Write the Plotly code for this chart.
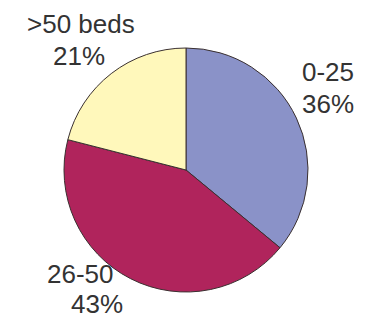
import plotly.graph_objects as go

labels = ["0-25", "26-50", ">50 beds"]
values = [36, 43, 21]
colors = ["#8a92c8", "#b0245c", "#fff8bb"]

W, H = 369, 321
cx, cy, r = 186, 170, 122

# label positions in pixels (label line, percent line)
label_pos = [(328, 72), (80, 274), (81, 24)]
pct_pos = [(328, 104), (97, 304), (79, 56)]

fig = go.Figure(go.Pie(
    labels=labels, values=values, sort=False, direction="clockwise", rotation=0,
    marker=dict(colors=colors, line=dict(color="#3a3030", width=1)),
    textinfo="none", hoverinfo="label+percent", showlegend=False,
    domain=dict(x=[(cx - r) / W, (cx + r) / W], y=[(H - cy - r) / H, (H - cy + r) / H]),
))

font = dict(family="Liberation Sans, Arial, sans-serif", size=26, color="#333333")
anns = []
for lab, val, (lx, ly), (px, py) in zip(labels, values, label_pos, pct_pos):
    anns.append(dict(text=lab, x=lx / W, y=1 - ly / H, xref="paper", yref="paper",
                     xanchor="center", yanchor="middle", showarrow=False, font=font))
    anns.append(dict(text=f"{val}%", x=px / W, y=1 - py / H, xref="paper", yref="paper",
                     xanchor="center", yanchor="middle", showarrow=False, font=font))

fig.update_layout(width=W, height=H, margin=dict(l=0, r=0, t=0, b=0),
                  paper_bgcolor="white", plot_bgcolor="white", annotations=anns)
fig.write_html("out.html")
